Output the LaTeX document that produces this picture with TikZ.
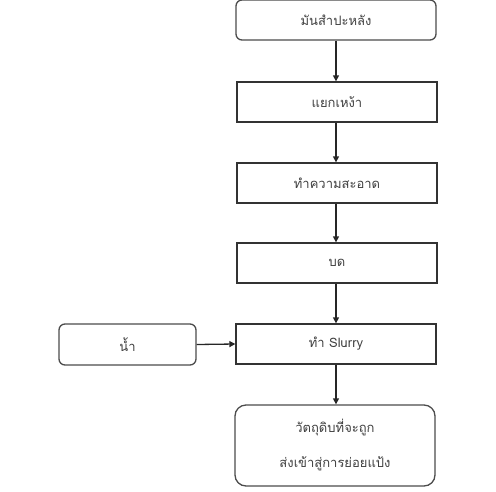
\documentclass[tikz,border=0pt]{standalone}
\usepackage{fontspec}
\newfontfamily\thaifont[Script=Thai]{Loma}
\usetikzlibrary{arrows.meta}
\begin{document}
\begin{tikzpicture}[x=1pt,y=-1pt,
  base/.style={draw=black!80, line width=1.3pt, fill=white, inner sep=0pt, font=\thaifont\fontsize{13}{20}\selectfont, text=black!75, align=center},
  sqbox/.style={base, rectangle},
  rbox/.style={base, rounded corners=6pt, draw=black!70},
  bigr/.style={base, rounded corners=11pt, draw=black!70},
  arr/.style={draw=black!85, line width=1.3pt, -{Triangle[length=6pt,width=6pt]}}
]
\useasboundingbox (0,0) rectangle (496,491);
\node[rbox, minimum width=200pt, minimum height=40pt] (a) at (336,20) {มันสำปะหลัง};
\node[sqbox, minimum width=200pt, minimum height=40pt] (b) at (337,102) {แยกเหง้า};
\node[sqbox, minimum width=200pt, minimum height=40pt] (c) at (337,183) {ทำความสะอาด};
\node[sqbox, minimum width=200pt, minimum height=40pt] (d) at (337,263) {บด};
\node[sqbox, minimum width=200pt, minimum height=40pt] (e) at (336,344) {ทำ Slurry};
\node[rbox, minimum width=137pt, minimum height=41pt] (w) at (127.5,344.5) {น้ำ};
\node[bigr, minimum width=200pt, minimum height=81pt] (f) at (335,445.5) {วัตถุดิบที่จะถูก\\[15pt]ส่งเข้าสู่การย่อยแป้ง};
\draw[arr] (a.south -| 336,0) -- (b.north -| 336,0);
\draw[arr] (b.south -| 336,0) -- (c.north -| 336,0);
\draw[arr] (c.south -| 336,0) -- (d.north -| 336,0);
\draw[arr] (d.south -| 336,0) -- (e.north -| 336,0);
\draw[arr] (e.south -| 336,0) -- (f.north -| 336,0);
\draw[arr] (w.east) -- (e.west);
\end{tikzpicture}
\end{document}
